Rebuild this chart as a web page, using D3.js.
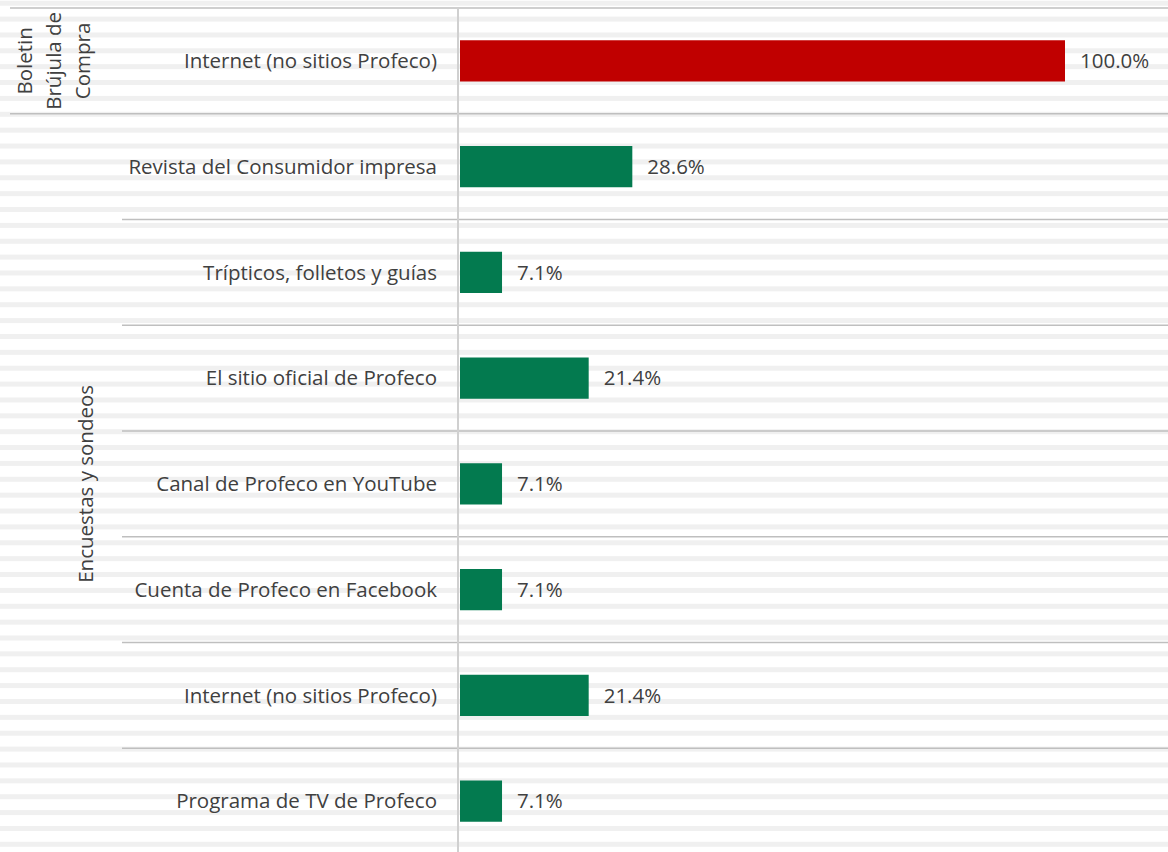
<!DOCTYPE html>
<html>
<head>
<meta charset="utf-8">
<script src="https://cdn.jsdelivr.net/npm/d3@7"></script>
<style>
  body { margin: 0; background: #fff; }
  svg { display: block; font-family: "Open Sans", "Liberation Sans", sans-serif; }
</style>
</head>
<body>
<svg width="1168" height="852"></svg>
<script>
(function () {

	var categories = [
		'Internet (no sitios Profeco)',
		'Revista del Consumidor impresa',
		'Trípticos, folletos y guías',
		'El sitio oficial de Profeco',
		'Canal de Profeco en YouTube',
		'Cuenta de Profeco en Facebook',
		'Internet (no sitios Profeco)',
		'Programa de TV de Profeco'
	];
	var values = [100.0, 28.6, 7.1, 21.4, 7.1, 7.1, 21.4, 7.1];
	var groupOf = [0, 1, 1, 1, 1, 1, 1, 1];
	var groups = [
		['Boletin', 'Brújula de', 'Compra'],
		['Encuestas y sondeos']
	];

	var svg = d3.select('svg');
	var W = 1168, H = 852;
	var top = 8, bottom = 854;
	var fs = 20.5;

	// striped background like the sheet rows
	svg.append('g')
		.selectAll('rect')
		.data(d3.range(0, 54))
		.enter().append('rect')
		.attr('x', 0)
		.attr('width', W)
		.attr('y', function (d) { return 0.7 + d * 15.87; })
		.attr('height', 5)
		.attr('fill', '#f0f0f0');

	var idx = d3.range(categories.length);
	var y = d3.scaleBand().domain(idx).range([top, bottom]).paddingInner(0.61).paddingOuter(0.305);
	var x = d3.scaleLinear().domain([0, 100]).range([459, 1065]);
	var step = y.step();

	// separator lines between categories
	svg.append('g')
		.selectAll('line')
		.data(d3.range(categories.length))
		.enter().append('line')
		.attr('x1', function (d) {
			if (d === 0 || groupOf[d] !== groupOf[d - 1]) return 10;
			return 122;
		})
		.attr('x2', W)
		.attr('y1', function (d) { return top + d * step; })
		.attr('y2', function (d) { return top + d * step; })
		.attr('stroke', '#bfbfbf')
		.attr('stroke-width', 1.5);

	// vertical axis line
	svg.append('line')
		.attr('x1', 458).attr('x2', 458)
		.attr('y1', top).attr('y2', H)
		.attr('stroke', '#d0d0d0')
		.attr('stroke-width', 2);

	// bars
	svg.append('g')
		.selectAll('rect')
		.data(values)
		.enter().append('rect')
		.attr('x', x(0) + 1)
		.attr('y', function (d, i) { return y(i); })
		.attr('height', y.bandwidth())
		.attr('width', function (d) { return x(d) - x(0) - 1; })
		.attr('fill', function (d, i) { return groupOf[i] === 0 ? '#c00000' : '#037a4f'; });

	// value labels
	svg.append('g')
		.selectAll('text')
		.data(values)
		.enter().append('text')
		.attr('x', function (d) { return x(d) + 15; })
		.attr('y', function (d, i) { return y(i) + y.bandwidth() / 2; })
		.attr('dy', '0.35em')
		.attr('font-size', fs)
		.attr('fill', '#404040')
		.text(function (d) { return d.toFixed(1) + '%'; });

	// category labels
	svg.append('g')
		.selectAll('text')
		.data(categories)
		.enter().append('text')
		.attr('x', 437)
		.attr('y', function (d, i) { return y(i) + y.bandwidth() / 2; })
		.attr('dy', '0.35em')
		.attr('text-anchor', 'end')
		.attr('font-size', fs)
		.attr('fill', '#404040')
		.text(function (d) { return d; });

	// group labels, rotated
	groups.forEach(function (lines, g) {
		var members = idx.filter(function (i) { return groupOf[i] === g; });
		var y0 = top + members[0] * step;
		var y1 = top + (members[members.length - 1] + 1) * step;
		var cy = (y0 + y1) / 2;
		var lineH = 29;
		var cx = g === 0 ? 54 : 86;
		var t = svg.append('text')
			.attr('transform', 'translate(' + cx + ',' + cy + ') rotate(-90)')
			.attr('text-anchor', 'middle')
			.attr('font-size', fs)
			.attr('fill', '#404040');
		lines.forEach(function (l, k) {
			t.append('tspan')
				.attr('x', 0)
				.attr('y', (k - (lines.length - 1) / 2) * lineH)
				.attr('dy', '0.35em')
				.text(l);
		});
	});

})();
</script>
</body>
</html>
